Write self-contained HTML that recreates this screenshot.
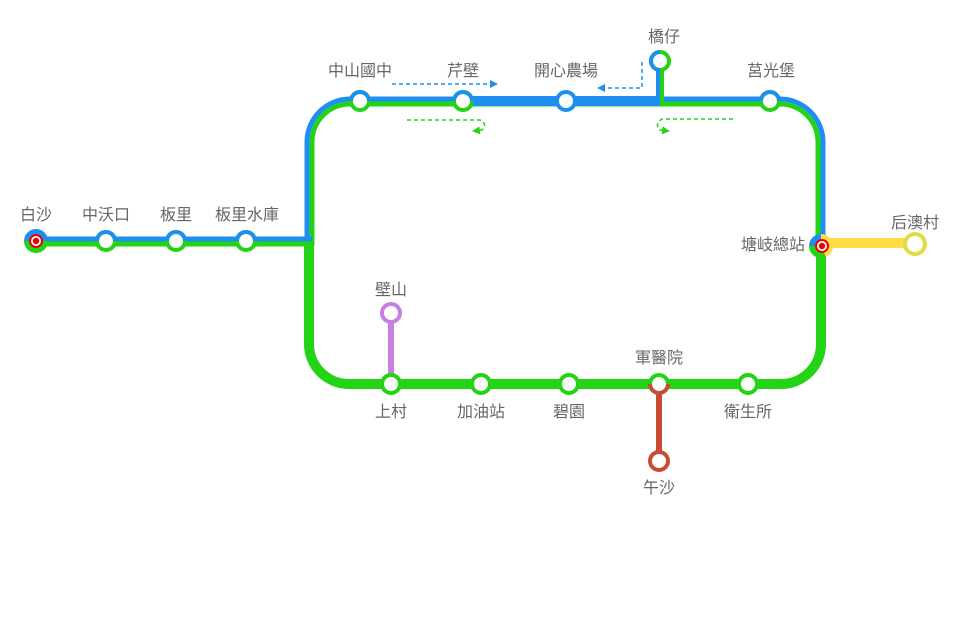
<!DOCTYPE html>
<html><head><meta charset="utf-8"><style>
body{margin:0;background:#fff}
svg text{font-family:"Liberation Sans","Noto Sans CJK TC",sans-serif;font-size:16px;fill:#666;text-anchor:middle}
</style></head><body>
<svg width="960" height="615" viewBox="0 0 960 615" xmlns="http://www.w3.org/2000/svg">
<defs>
<marker id="ab" markerWidth="8" markerHeight="8" refX="6" refY="4" orient="auto" markerUnits="userSpaceOnUse"><path d="M0,0 L8,4 L0,8z" fill="#1e8ef0"/></marker>
<marker id="ag" markerWidth="8" markerHeight="8" refX="6" refY="4" orient="auto" markerUnits="userSpaceOnUse"><path d="M0,0 L8,4 L0,8z" fill="#22d415"/></marker>
</defs>
<g fill="none" stroke-linecap="butt">
<line x1="391" y1="313" x2="391" y2="384" stroke="#c77fe0" stroke-width="6"/>
<line x1="659" y1="384" x2="659" y2="461" stroke="#c94a35" stroke-width="6"/>
<line x1="821" y1="243" x2="915" y2="243" stroke="#ffdd44" stroke-width="10"/>
<path d="M36,244 L312,244" stroke="#22d415" stroke-width="5"/>
<path d="M312,246 L312,142 A38,38 0 0 1 350,104 L780,104 A38,38 0 0 1 818,142 L818,246" stroke="#22d415" stroke-width="5"/>
<path d="M309,240 L309,344 A40,40 0 0 0 349,384 L781,384 A40,40 0 0 0 821,344 L821,246" stroke="#22d415" stroke-width="10"/>
<path d="M36,239 L309.5,239 L309.5,241" stroke="#1e8ef0" stroke-width="5"/>
<path d="M307,241 L307,142 A43,43 0 0 1 350,99 L780,99 A43,43 0 0 1 823,142 L823,246" stroke="#1e8ef0" stroke-width="5"/>
<path d="M463,101 L660,101" stroke="#1e8ef0" stroke-width="10"/>
<line x1="658" y1="61" x2="658" y2="106" stroke="#1e8ef0" stroke-width="4"/>
<line x1="662" y1="61" x2="662" y2="104" stroke="#22d415" stroke-width="4"/>
<path d="M392,84 L496,84" stroke="#1e8ef0" stroke-width="1.5" stroke-dasharray="4,3" marker-end="url(#ab)"/>
<path d="M642,62 L642,88 L599,88" stroke="#1e8ef0" stroke-width="1.5" stroke-dasharray="4,3" marker-end="url(#ab)"/>
<path d="M407,120 L480,120 Q488,124 482,130 L474,131" stroke="#22d415" stroke-width="1.5" stroke-dasharray="4,3" marker-end="url(#ag)"/>
<path d="M733,119 L662,119 Q654,124 660,130 L668,131" stroke="#22d415" stroke-width="1.5" stroke-dasharray="4,3" marker-end="url(#ag)"/>
</g>
<g fill="#fff" stroke-width="4">
<g stroke="#22d415">
<circle cx="106" cy="241" r="9"/><circle cx="176" cy="241" r="9"/><circle cx="246" cy="241" r="9"/>
<circle cx="360" cy="101" r="9"/><circle cx="463" cy="101" r="9"/><circle cx="770" cy="101" r="9"/>
<circle cx="660" cy="61" r="9"/>
<circle cx="391" cy="384" r="9"/><circle cx="481" cy="384" r="9"/><circle cx="569" cy="384" r="9"/><circle cx="659" cy="384" r="9"/><circle cx="748" cy="384" r="9"/>
</g>
<g stroke="#1e8ef0" fill="none">
<path d="M97,241 A9,9 0 0 1 115,241"/><path d="M167,241 A9,9 0 0 1 185,241"/><path d="M237,241 A9,9 0 0 1 255,241"/>
<path d="M351,101 A9,9 0 0 1 369,101"/><path d="M454,101 A9,9 0 0 1 472,101"/><path d="M761,101 A9,9 0 0 1 779,101"/>
<path d="M660,70 A9,9 0 0 1 660,52"/>
</g>
<path d="M650,384 A9,9 0 0 0 668,384" stroke="#c94a35" fill="none"/>
<circle cx="566" cy="101" r="9" stroke="#1e8ef0"/>
<circle cx="391" cy="313" r="9" stroke="#c77fe0"/>
<circle cx="659" cy="461" r="9" stroke="#c94a35"/>
<circle cx="915" cy="244" r="10" stroke="#dede44"/>
</g>
<path d="M24,241 A12,12 0 0 1 48,241z" fill="#1e8ef0"/>
<path d="M24,241 A12,12 0 0 0 48,241z" fill="#22d415"/>
<path d="M821,246 L809,246 A12,12 0 0 1 821,234z" fill="#1e8ef0"/>
<path d="M821,246 L821,234 A12,12 0 0 1 833,246 A12,12 0 0 1 826,257z" fill="#ffdd44"/>
<path d="M821,246 L809,246 A12,12 0 0 0 826,257z" fill="#22d415"/>
<g><circle cx="36" cy="241" r="7" fill="#e00"/><circle cx="36" cy="241" r="5" fill="#fff"/><circle cx="36" cy="241" r="3.2" fill="#e00"/>
<circle cx="822" cy="246" r="7" fill="#e00"/><circle cx="822" cy="246" r="5" fill="#fff"/><circle cx="822" cy="246" r="3.2" fill="#e00"/></g>
<text x="36" y="220">白沙</text><text x="106" y="220">中沃口</text><text x="176" y="220">板里</text><text x="247" y="220">板里水庫</text>
<text x="360" y="76">中山國中</text><text x="463" y="76">芹壁</text><text x="566" y="76">開心農場</text><text x="664" y="42">橋仔</text><text x="771" y="76">莒光堡</text>
<text x="805" y="250" style="text-anchor:end">塘岐總站</text><text x="915" y="228">后澳村</text>
<text x="391" y="295">壁山</text><text x="391" y="417">上村</text><text x="481" y="417">加油站</text><text x="569" y="417">碧園</text>
<text x="659" y="363">軍醫院</text><text x="748" y="417">衛生所</text><text x="659" y="493">午沙</text>
</svg>
</body></html>
